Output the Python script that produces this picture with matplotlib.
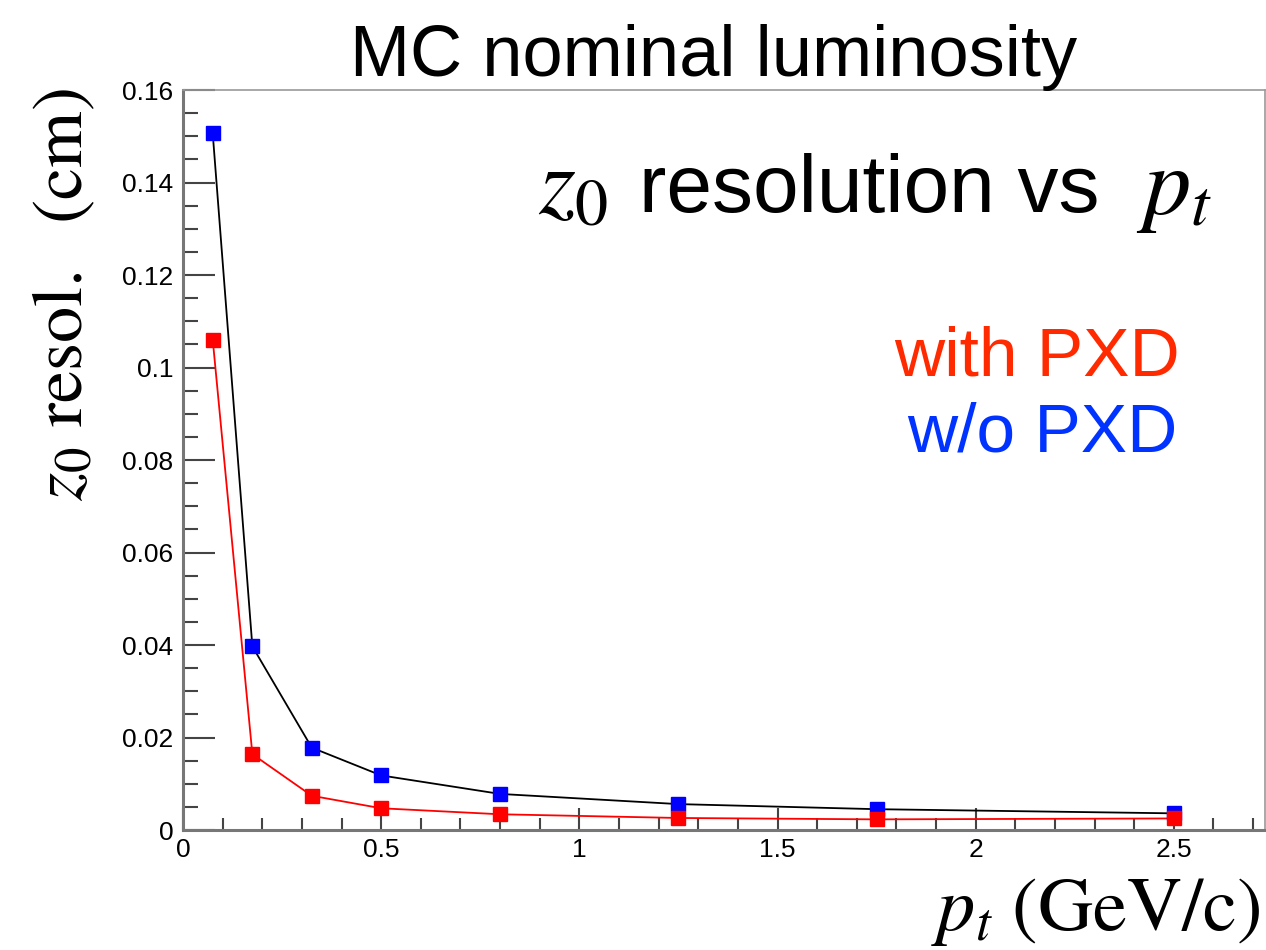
import matplotlib
matplotlib.use("Agg")
import matplotlib.pyplot as plt
from matplotlib.ticker import MultipleLocator, FuncFormatter

plt.rcParams['mathtext.fontset'] = 'stix'
plt.rcParams['font.family'] = ['Liberation Sans', 'DejaVu Sans']

pt = [0.075, 0.175, 0.325, 0.5, 0.8, 1.25, 1.75, 2.5]
res_with_pxd = [0.106, 0.0164, 0.0074, 0.0047, 0.0034, 0.0026, 0.0023, 0.0025]
res_without_pxd = [0.1506, 0.0397, 0.0178, 0.0118, 0.0078, 0.0056, 0.0045, 0.0036]

W, H = 1266, 950
fig = plt.figure(figsize=(W / 100, H / 100), dpi=100)
ax = fig.add_axes([183 / W, 1 - 830 / H, (1265 - 183) / W, (830 - 90) / H])

ax.plot(pt, res_without_pxd, color='black', lw=1.3, zorder=2)
ax.plot(pt, res_without_pxd, ls='none', marker='s', ms=10, color='#0000ff',
        mec='#0000ff', zorder=3)
ax.plot(pt, res_with_pxd, color='#ff0000', lw=1.3, zorder=2)
ax.plot(pt, res_with_pxd, ls='none', marker='s', ms=10, color='#ff0000',
        mec='#ff0000', zorder=4)

ax.set_xlim(0, 2.73)
ax.set_ylim(0, 0.16)
ax.xaxis.set_major_locator(MultipleLocator(0.5))
ax.xaxis.set_minor_locator(MultipleLocator(0.1))
ax.yaxis.set_major_locator(MultipleLocator(0.02))
ax.yaxis.set_minor_locator(MultipleLocator(0.005))
fmt = FuncFormatter(lambda v, p: f"{v:g}")
ax.xaxis.set_major_formatter(fmt)
ax.yaxis.set_major_formatter(fmt)

ax.tick_params(axis='y', which='major', direction='in', length=23, width=1.5,
               color='#444444', labelsize=19, pad=7)
ax.tick_params(axis='y', which='minor', direction='in', length=11, width=1.5,
               color='#444444')
ax.tick_params(axis='x', which='major', direction='in', length=16, width=1.5,
               color='#444444', labelsize=19, pad=6)
ax.tick_params(axis='x', which='minor', direction='in', length=8.5, width=1.5,
               color='#444444')

for s in ['left', 'bottom']:
    ax.spines[s].set_linewidth(2.2)
    ax.spines[s].set_color('#777777')
for s in ['top', 'right']:
    ax.spines[s].set_linewidth(1.2)
    ax.spines[s].set_color('#999999')

fig.text(714 / W, 1 - 76 / H, 'MC nominal luminosity', ha='center', va='baseline',
         fontsize=52)

# in-plot heading: z0 resolution vs pt
fig.text(538 / W, 1 - 213 / H, r'$z_0$', ha='left', va='baseline', fontsize=68)
fig.text(639 / W, 1 - 212 / H, 'resolution vs', ha='left', va='baseline',
         fontsize=59)
fig.text(1212 / W, 1 - 213 / H, r'$p_t$', ha='right', va='baseline', fontsize=68)

fig.text(1180 / W, 1 - 375 / H, 'with PXD', ha='right', va='baseline',
         fontsize=50, color='#ff2a00')
fig.text(1177 / W, 1 - 452 / H, 'w/o PXD', ha='right', va='baseline',
         fontsize=50, color='#0033ff')
fig.text(64 / W, 1 - 88 / H, r'$z_0\ \mathrm{resol.}\ \ \mathrm{(cm)}$', ha='center',
         va='top', rotation=90, fontsize=52)
fig.text(1261 / W, 1 - 930 / H, r'$p_t\ \mathrm{(GeV/c)}$', ha='right',
         va='baseline', fontsize=55)

fig.savefig('out.png', dpi=100)
